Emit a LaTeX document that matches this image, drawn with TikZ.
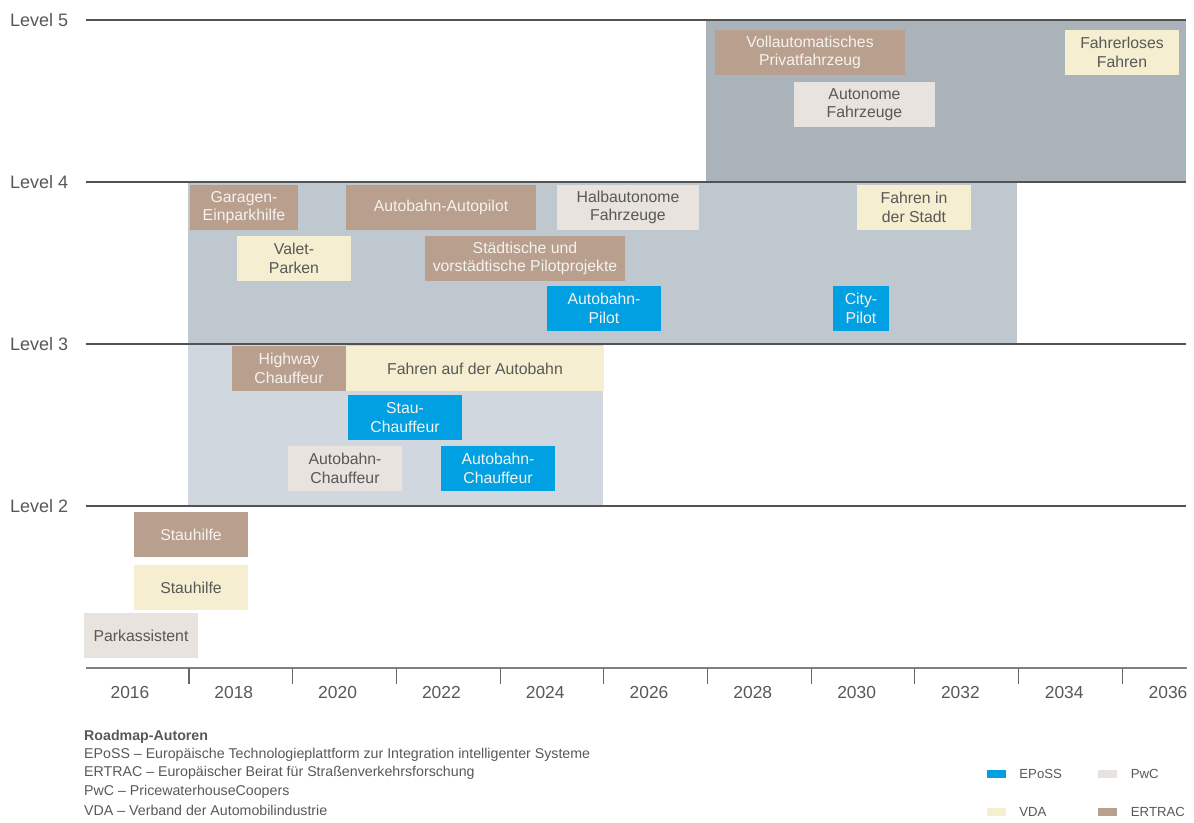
\documentclass[tikz,border=0pt]{standalone}
\usepackage{fontspec}
\setmainfont{Liberation Sans}
\usetikzlibrary{positioning}

\definecolor{eposscol}{RGB}{0,160,226}
\definecolor{ertraccol}{RGB}{184,159,142}
\definecolor{vdacol}{RGB}{245,238,208}
\definecolor{pwccol}{RGB}{232,227,222}
\definecolor{bandfive}{RGB}{169,179,185}
\definecolor{bandfour}{RGB}{192,200,207}
\definecolor{bandthree}{RGB}{208,215,222}
\definecolor{darktext}{RGB}{88,88,88}
\definecolor{lighttext}{RGB}{246,242,238}

\begin{document}
\begin{tikzpicture}[x=1pt, y=-1pt,
	box/.style={minimum height=45pt, minimum width=114pt, inner sep=0pt, align=center, font=\fontsize{15.8}{18.5}\selectfont},
	eposs/.style={box, fill=eposscol, text=lighttext},
	ertrac/.style={box, fill=ertraccol, text=lighttext},
	vda/.style={box, fill=vdacol, text=darktext},
	pwc/.style={box, fill=pwccol, text=darktext},
	level/.style={anchor=west, inner sep=0pt, text=darktext, font=\fontsize{18}{20}\selectfont},
	levelline/.style={draw=black!68, line width=1.2pt},
	year/.style={inner sep=0pt, text=darktext, font=\fontsize{17.4}{20}\selectfont},
	tick/.style={draw=black!60, line width=1.1pt},
	legend/.style={anchor=west, inner sep=0pt, text=darktext, font=\fontsize{14.2}{18.5}\selectfont},
	keytext/.style={legend, font=\fontsize{13.2}{18.5}\selectfont},
	swatch/.style={minimum width=19pt, minimum height=8pt, inner sep=0pt}
]
	\useasboundingbox (0,0) rectangle (1194,822);

	% bands
	\fill[bandfive] (706,20) rectangle (1186,182);
	\fill[bandfour] (188,182) rectangle (1017,344);
	\fill[bandthree] (188,344) rectangle (603,506);

	% levels
	\foreach \lv/\yy in {5/20, 4/182, 3/344, 2/506} {
		\node[level] (lv\lv) at (10,\yy) {Level \lv};
		\draw[levelline] (86,\yy) -- (1186,\yy);
	}

	% level 5
	\node[ertrac, minimum width=190pt] (voll) at (810,52.5) {Vollautomatisches\\Privatfahrzeug};
	\node[pwc, minimum width=141pt] (autonom) at (864.5,104.5) {Autonome\\Fahrzeuge};
	\node[vda] (fahrerlos) at (1122,52.5) {Fahrerloses\\Fahren};

	% level 4
	\node[ertrac, minimum width=108pt] (garagen) at (244,207.5) {Garagen-\\Einparkhilfe};
	\node[ertrac, minimum width=190pt] (autopilot) at (441,207.5) {Autobahn-Autopilot};
	\node[pwc, minimum width=142pt] (halbauto) at (628,207.5) {Halbautonome\\Fahrzeuge};
	\node[vda] (stadt) at (914,207.5) {Fahren in\\der Stadt};
	\node[vda] (valet) at (294,258.5) {Valet-\\Parken};
	\node[ertrac, minimum width=200pt] (pilotprojekte) at (525,258.5) {Städtische und\\vorstädtische Pilotprojekte};
	\node[eposs] (abpilot) at (604,308.5) {Autobahn-\\Pilot};
	\node[eposs, minimum width=56pt] (citypilot) at (861,308.5) {City-\\Pilot};

	% level 3
	\node[ertrac] (highway) at (289,368.5) {Highway\\Chauffeur};
	\node[vda, minimum width=258pt] (fahrenab) at (475,368.5) {Fahren auf der Autobahn};
	\node[eposs] (stauchauffeur) at (405,417.5) {Stau-\\Chauffeur};
	\node[pwc] (abchauffeurpwc) at (345,468.5) {Autobahn-\\Chauffeur};
	\node[eposs] (abchauffeureposs) at (498,468.5) {Autobahn-\\Chauffeur};

	% level 2
	\node[ertrac] (stauhilfeertrac) at (191,534.5) {Stauhilfe};
	\node[vda] (stauhilfevda) at (191,587.5) {Stauhilfe};
	\node[pwc] (parkassistent) at (141,635.5) {Parkassistent};

	% time axis
	\draw[draw=black!50, line width=1.5pt] (86,668) -- (1187,668);
	\foreach \k in {0,...,9}
		\draw[tick] (189+103.7*\k,668) -- ++(0,16);
	\foreach \k in {0,...,10} {
		\pgfmathtruncatemacro\yr{2016+2*\k}
		\node[year] (y\yr) at (130+103.8*\k,693) {\yr};
	}

	% authors
	\node[legend] (authors) at (84,737) {\bfseries Roadmap-Autoren};
	\node[legend] (epossline) at (84,755) {EPoSS -- Europäische Technologieplattform zur Integration intelligenter Systeme};
	\node[legend] (ertracline) at (84,773) {ERTRAC -- Europäischer Beirat für Straßenverkehrsforschung};
	\node[legend] (pwcline) at (84,792) {PwC -- PricewaterhouseCoopers};
	\node[legend] (vdaline) at (84,810) {VDA -- Verband der Automobilindustrie};

	% legend
	\node[swatch, fill=eposscol] (keyeposs) at (996.5,774) {};
	\node[keytext, right=13pt of keyeposs] (txteposs) {EPoSS};
	\node[swatch, fill=pwccol] (keypwc) at (1107,774) {};
	\node[keytext, right=14pt of keypwc] (txtpwc) {PwC};
	\node[swatch, fill=vdacol] (keyvda) at (996.5,812) {};
	\node[keytext, right=13pt of keyvda] (txtvda) {VDA};
	\node[swatch, fill=ertraccol] (keyertrac) at (1107,812) {};
	\node[keytext, right=14pt of keyertrac] (txtertrac) {ERTRAC};
\end{tikzpicture}
\end{document}
